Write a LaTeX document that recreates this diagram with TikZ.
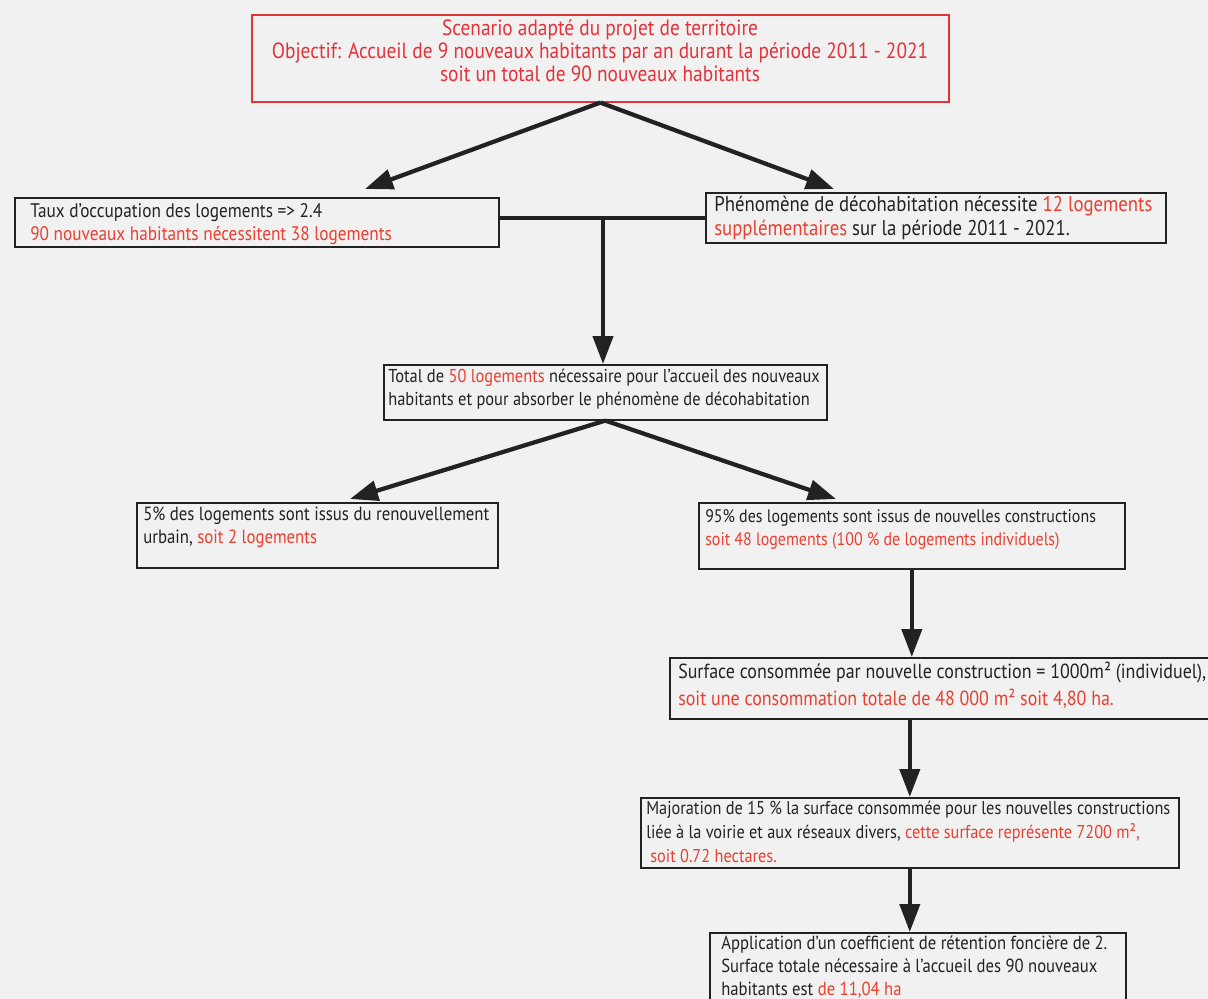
\documentclass[tikz,border=0pt]{standalone}
\usepackage{fontspec}
\setmainfont{PT Sans}[FakeStretch=0.88]
\usetikzlibrary{arrows.meta}
\definecolor{tred}{RGB}{232,64,48}
\definecolor{bred}{RGB}{226,50,58}
\definecolor{bg}{RGB}{241,241,241}
\definecolor{ink}{RGB}{34,34,34}
\begin{document}
\begin{tikzpicture}[x=0.75pt,y=-0.75pt,
 box/.style={draw=ink, line width=1.2pt, inner sep=0pt, anchor=north west},
 txt/.style={inner sep=0pt, anchor=base west, align=left, text=ink},
 arr/.style={draw=ink, line width=3.2pt, -{Triangle[length=21pt,width=15pt]}},
 ln/.style={draw=ink, line width=3.2pt}]
\fill[bg] (0,0) rectangle (1208,999);
\useasboundingbox (0,0) rectangle (1208,999);
% boxes
\node[box, draw=bred, minimum width=522.75pt, minimum height=65.25pt] (b1) at (251,14) {};
\node[box, minimum width=363pt, minimum height=36.75pt] (b2) at (14,197) {};
\node[box, minimum width=345pt, minimum height=37.5pt] (b3) at (705,192) {};
\node[box, minimum width=332.25pt, minimum height=41.25pt] (b4) at (383,364) {};
\node[box, minimum width=270.75pt, minimum height=48.75pt] (b5) at (136,502) {};
\node[box, minimum width=319.5pt, minimum height=49.5pt] (b6) at (698,502) {};
\node[box, minimum width=409.5pt, minimum height=45.75pt] (b7) at (669,657) {};
\node[box, minimum width=403.5pt, minimum height=52.5pt] (b8) at (640,797) {};
\node[box, minimum width=312pt, minimum height=58.5pt] (b9) at (709,932) {};
% texts (anchor = baseline of the last line)
\node[txt, anchor=base, align=center, text=bred, font=\fontsize{16.5}{17.5}\selectfont] (t1) at (600,82) {Scenario adapté du projet de territoire\\Objectif: Accueil de 9 nouveaux habitants par an durant la période 2011 - 2021\\soit un total de 90 nouveaux habitants};
\node[txt, font=\fontsize{14.7}{17}\selectfont] (t2) at (30,240) {Taux d'occupation des logements => 2.4\\\textcolor{tred}{90 nouveaux habitants nécessitent 38 logements}};
\node[txt, font=\fontsize{16}{17.5}\selectfont] (t3) at (714,235) {Phénomène de décohabitation nécessite \textcolor{tred}{12 logements}\\\textcolor{tred}{supplémentaires} sur la période 2011 - 2021.};
\node[txt, font=\fontsize{14}{17.25}\selectfont] (t4) at (388,405) {Total de \textcolor{tred}{50 logements} nécessaire pour l'accueil des nouveaux\\habitants et pour absorber le phénomène de décohabitation};
\node[txt, font=\fontsize{14.3}{17.25}\selectfont] (t5) at (143,543) {5\% des logements sont issus du renouvellement\\urbain, \textcolor{tred}{soit 2 logements}};
\node[txt, font=\fontsize{13.6}{17.25}\selectfont] (t6) at (705,545) {95\% des logements sont issus de nouvelles constructions\\\textcolor{tred}{soit 48 logements (100 \% de logements individuels)}};
\node[txt, font=\fontsize{15.3}{20}\selectfont] (t7) at (678,705) {Surface consommée par nouvelle construction = 1000m² (individuel),\\\textcolor{tred}{soit une consommation totale de 48 000 m² soit 4,80 ha.}};
\node[txt, font=\fontsize{13.9}{17.75}\selectfont] (t8) at (646,862) {Majoration de 15 \% la surface consommée pour les nouvelles constructions\\liée à la voirie et aux réseaux divers, \textcolor{tred}{cette surface représente 7200 m²,}\\\hspace*{3pt}\textcolor{tred}{soit 0.72 hectares.}};
\node[txt, font=\fontsize{14.2}{17.25}\selectfont] (t9) at (721,995) {Application d'un coefficient de rétention foncière de 2.\\Surface totale nécessaire à l'accueil des 90 nouveaux\\habitants est \textcolor{tred}{de 11,04 ha}};
% connectors
\coordinate (a1) at (365,189);
\coordinate (a2) at (834,189);
\coordinate (j) at (603,218);
\coordinate (a3) at (350,499);
\coordinate (a4) at (836,499);
\draw[arr] (b1.south) -- (a1);
\draw[arr] (b1.south) -- (a2);
\draw[ln] (b2.east |- j) -- (b3.west |- j);
\draw[arr] (j) -- (j |- b4.north);
\draw[arr] (b4.south) -- (a3);
\draw[arr] (b4.south) -- (a4);
\draw[arr] (b6.south) -- (b6.south |- b7.north);
\draw[arr] (b8.north |- b7.south) -- (b8.north);
\draw[arr] (b8.south) -- (b8.south |- b9.north);
\end{tikzpicture}
\end{document}
